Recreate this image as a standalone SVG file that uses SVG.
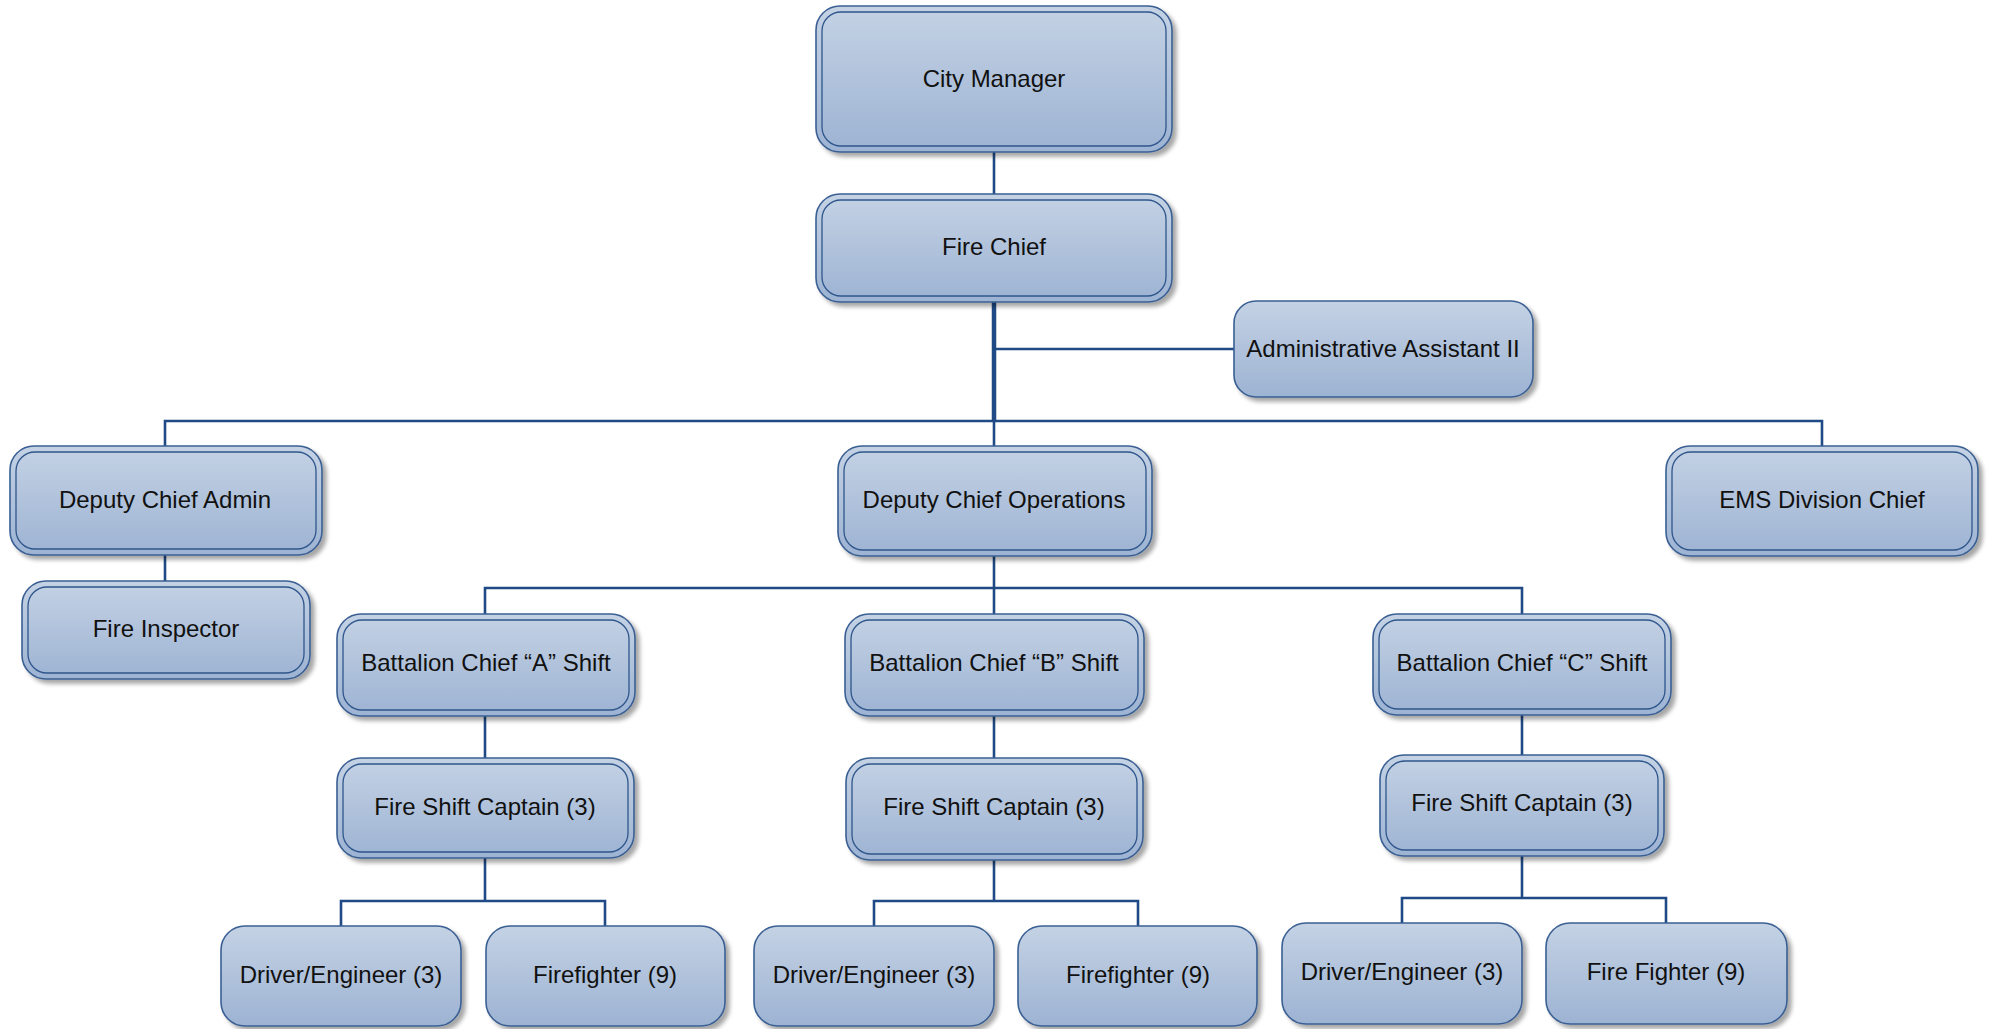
<svg xmlns="http://www.w3.org/2000/svg" width="1989" height="1029" viewBox="0 0 1989 1029">
  <defs>
    <linearGradient id="boxFill" x1="0" y1="0" x2="0" y2="1">
      <stop offset="0" stop-color="#c4d2e4"/>
      <stop offset="1" stop-color="#9db3d3"/>
    </linearGradient>
    <filter id="shadow" x="-10%" y="-10%" width="125%" height="130%">
      <feDropShadow dx="4" dy="4" stdDeviation="2" flood-color="#000" flood-opacity="0.35"/>
    </filter>
  </defs>
  <style>
    .outer { fill: url(#boxFill); stroke: #3a5f93; stroke-width: 1.6; filter: url(#shadow); }
    .inner { fill: none; stroke: #2f568c; stroke-width: 1.3; }
    .label { font-family: "Liberation Sans", Arial, sans-serif; font-size: 24px; fill: #111; text-anchor: middle; }
    .link { fill: none; stroke: #1f4a85; stroke-width: 2.6; }
    .trunk { fill: none; stroke: #1f4a85; stroke-width: 4.5; }
  </style>
  <rect width="1989" height="1029" fill="#ffffff"/>

  <g id="connectors">
    <line class="link" x1="994" y1="152" x2="994" y2="194"/>
    <line class="trunk" x1="994" y1="301" x2="994" y2="421"/>
    <line class="link" x1="994" y1="421" x2="994" y2="446"/>
    <line class="link" x1="994" y1="349" x2="1234" y2="349"/>
    <polyline class="link" points="165,446 165,421 1822,421 1822,446"/>
    <line class="link" x1="165" y1="555" x2="165" y2="581"/>
    <line class="link" x1="994" y1="556" x2="994" y2="614"/>
    <polyline class="link" points="485,614 485,588 1522,588 1522,614"/>
    <line class="link" x1="485" y1="716" x2="485" y2="758"/>
    <line class="link" x1="994" y1="716" x2="994" y2="758"/>
    <line class="link" x1="1522" y1="715" x2="1522" y2="755"/>
    <line class="link" x1="485" y1="858" x2="485" y2="901"/>
    <polyline class="link" points="341,926 341,901 605,901 605,926"/>
    <line class="link" x1="994" y1="860" x2="994" y2="901"/>
    <polyline class="link" points="874,926 874,901 1138,901 1138,926"/>
    <line class="link" x1="1522" y1="856" x2="1522" y2="898"/>
    <polyline class="link" points="1402,923 1402,898 1666,898 1666,923"/>
  </g>

  <g id="city-manager">
    <rect class="outer" x="816" y="6" width="356" height="146" rx="24"/>
    <rect class="inner" x="822" y="12" width="344" height="134" rx="19"/>
    <text class="label" x="994" y="87">City Manager</text>
  </g>
  <g id="fire-chief">
    <rect class="outer" x="816" y="194" width="356" height="108" rx="24"/>
    <rect class="inner" x="822" y="200" width="344" height="96" rx="19"/>
    <text class="label" x="994" y="255">Fire Chief</text>
  </g>
  <g id="admin-assistant">
    <rect class="outer" x="1234" y="301" width="299" height="96" rx="22"/>
    <text class="label" x="1383" y="357">Administrative Assistant II</text>
  </g>
  <g id="deputy-chief-admin">
    <rect class="outer" x="10" y="446" width="312" height="109" rx="24"/>
    <rect class="inner" x="16" y="452" width="300" height="97" rx="19"/>
    <text class="label" x="165" y="508">Deputy Chief Admin</text>
  </g>
  <g id="fire-inspector">
    <rect class="outer" x="22" y="581" width="288" height="98" rx="24"/>
    <rect class="inner" x="28" y="587" width="276" height="86" rx="19"/>
    <text class="label" x="166" y="637">Fire Inspector</text>
  </g>
  <g id="deputy-chief-operations">
    <rect class="outer" x="838" y="446" width="314" height="110" rx="24"/>
    <rect class="inner" x="844" y="452" width="302" height="98" rx="19"/>
    <text class="label" x="994" y="508">Deputy Chief Operations</text>
  </g>
  <g id="ems-division-chief">
    <rect class="outer" x="1666" y="446" width="312" height="110" rx="24"/>
    <rect class="inner" x="1672" y="452" width="300" height="98" rx="19"/>
    <text class="label" x="1822" y="508">EMS Division Chief</text>
  </g>
  <g id="battalion-chief-a">
    <rect class="outer" x="337" y="614" width="298" height="102" rx="24"/>
    <rect class="inner" x="343" y="620" width="286" height="90" rx="19"/>
    <text class="label" x="486" y="671">Battalion Chief “A” Shift</text>
  </g>
  <g id="battalion-chief-b">
    <rect class="outer" x="845" y="614" width="299" height="102" rx="24"/>
    <rect class="inner" x="851" y="620" width="287" height="90" rx="19"/>
    <text class="label" x="994" y="671">Battalion Chief “B” Shift</text>
  </g>
  <g id="battalion-chief-c">
    <rect class="outer" x="1373" y="614" width="298" height="101" rx="24"/>
    <rect class="inner" x="1379" y="620" width="286" height="89" rx="19"/>
    <text class="label" x="1522" y="671">Battalion Chief “C” Shift</text>
  </g>
  <g id="fire-shift-captain-a">
    <rect class="outer" x="337" y="758" width="297" height="100" rx="24"/>
    <rect class="inner" x="343" y="764" width="285" height="88" rx="19"/>
    <text class="label" x="485" y="815">Fire Shift Captain (3)</text>
  </g>
  <g id="fire-shift-captain-b">
    <rect class="outer" x="846" y="758" width="297" height="102" rx="24"/>
    <rect class="inner" x="852" y="764" width="285" height="90" rx="19"/>
    <text class="label" x="994" y="815">Fire Shift Captain (3)</text>
  </g>
  <g id="fire-shift-captain-c">
    <rect class="outer" x="1380" y="755" width="284" height="101" rx="24"/>
    <rect class="inner" x="1386" y="761" width="272" height="89" rx="19"/>
    <text class="label" x="1522" y="811">Fire Shift Captain (3)</text>
  </g>
  <g id="driver-engineer-a">
    <rect class="outer" x="221" y="926" width="240" height="100" rx="24"/>
    <text class="label" x="341" y="983">Driver/Engineer (3)</text>
  </g>
  <g id="firefighter-a">
    <rect class="outer" x="486" y="926" width="239" height="100" rx="24"/>
    <text class="label" x="605" y="983">Firefighter (9)</text>
  </g>
  <g id="driver-engineer-b">
    <rect class="outer" x="754" y="926" width="240" height="100" rx="24"/>
    <text class="label" x="874" y="983">Driver/Engineer (3)</text>
  </g>
  <g id="firefighter-b">
    <rect class="outer" x="1018" y="926" width="239" height="100" rx="24"/>
    <text class="label" x="1138" y="983">Firefighter (9)</text>
  </g>
  <g id="driver-engineer-c">
    <rect class="outer" x="1282" y="923" width="240" height="101" rx="24"/>
    <text class="label" x="1402" y="980">Driver/Engineer (3)</text>
  </g>
  <g id="fire-fighter-c">
    <rect class="outer" x="1546" y="923" width="241" height="101" rx="24"/>
    <text class="label" x="1666" y="980">Fire Fighter (9)</text>
  </g>
</svg>
